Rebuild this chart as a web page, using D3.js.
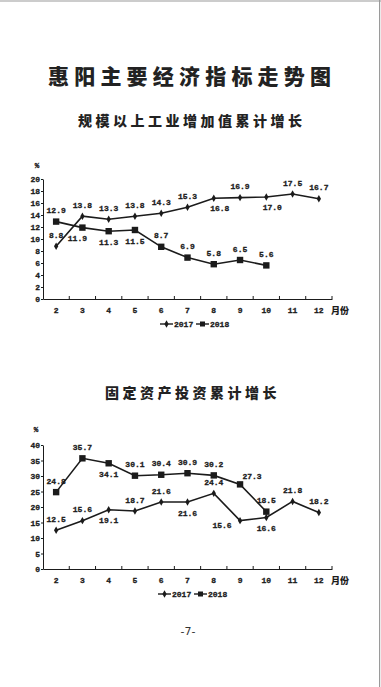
<!DOCTYPE html>
<html><head><meta charset="utf-8">
<script src="https://cdn.jsdelivr.net/npm/d3@7"></script>
<style>
html,body{margin:0;padding:0;background:#fff;}
svg{display:block;}
.num{font-family:'Liberation Mono','DejaVu Sans Mono',monospace;font-weight:bold;font-size:8px;fill:#1b1b1b;stroke:#1b1b1b;stroke-width:0.3px;}
</style>
</head><body>
<svg id="c" width="381" height="687"></svg>
<script>
// ---------- data ----------
const months = ["2","3","4","5","6","7","8","9","10","11","12"];
const seriesNames = ["2017","2018"];

// Chart 1: 规模以上工业增加值累计增长 (%)
const ind2017 = [8.8, 13.8, 13.3, 13.8, 14.3, 15.3, 16.8, 16.9, 17.0, 17.5, 16.7];
const ind2018 = [12.9, 11.9, 11.3, 11.5, 8.7, 6.9, 5.8, 6.5, 5.6];
const indTicks = [0, 2, 4, 6, 8, 10, 12, 14, 16, 18, 20];

// Chart 2: 固定资产投资累计增长 (%)
const inv2017 = [12.5, 15.6, 19.1, 18.7, 21.6, 21.6, 24.4, 15.6, 16.6, 21.8, 18.2];
const inv2018 = [24.8, 35.7, 34.1, 30.1, 30.4, 30.9, 30.2, 27.3, 18.5];
const invTicks = [0, 5, 10, 15, 20, 25, 30, 35, 40];

// label placement codes (a=above, b=below, ...)
const indPos2017 = ["a","a","a","a","a","a","br","a","br","a","a"];
const indPos2018 = ["a","bl","b","b","a","a","a","a","a"];
const invPos2017 = ["a","a","b","a","a","b","a","l","b","a","a"];
const invPos2018 = ["a","a","b","a","a","a","a","ar","a"];

const mainTitle = "惠阳主要经济指标走势图";
const title1 = "规模以上工业增加值累计增长";
const title2 = "固定资产投资累计增长";
const unitX = "月份";
const pageNo = "-7-";

// ---------- drawing ----------
const svg = d3.select("#c");
const INK = "#1b1b1b";
const CJK = "'Noto Sans CJK SC', sans-serif";

// page border
svg.append("line").attr("x1",0).attr("x2",381).attr("y1",1).attr("y2",1).attr("stroke","#9a9a9a").attr("stroke-width",1.2);
svg.append("line").attr("x1",379.6).attr("x2",379.6).attr("y1",0).attr("y2",687).attr("stroke","#9a9a9a").attr("stroke-width",1.2);

svg.append("text").attr("x",48).attr("y",74.5).attr("dominant-baseline","central")
  .attr("font-family",CJK).attr("font-weight",900).attr("font-size",21)
  .attr("letter-spacing",5.2).attr("fill","#222").text(mainTitle);

const offs = {a:[0,-11], b:[0,11], br:[6,10], bl:[-5,11], ar:[12,-8], l:[-18,5]};

function chart(opt){
  const g = svg.append("g");
  g.append("text").attr("x",opt.titleX).attr("y",opt.titleY).attr("dominant-baseline","central")
    .attr("font-family",CJK).attr("font-weight",900).attr("font-size",14)
    .attr("letter-spacing",3.5).attr("fill","#222").text(opt.title);

  const x = d3.scaleBand().domain(months).range([43, 332]).paddingInner(0).paddingOuter(0);
  const y = d3.scaleLinear().domain([0, opt.max]).range([opt.y0, opt.y1]);
  const cx = m => x(m) + x.bandwidth()/2;

  // y axis
  const ya = g.append("g").attr("transform",`translate(43,0)`)
    .call(d3.axisLeft(y).tickValues(opt.ticks).tickSizeInner(2).tickSizeOuter(0).tickPadding(1));
  ya.select(".domain").attr("stroke",INK).attr("stroke-width",1);
  ya.selectAll(".tick line").attr("stroke",INK);
  ya.selectAll("text").attr("class","num").attr("fill",null);

  // x axis (labels) + boundary ticks
  const xa = g.append("g").attr("transform",`translate(0,${opt.y0})`)
    .call(d3.axisBottom(x).tickSize(0).tickPadding(8));
  xa.select(".domain").attr("stroke",INK).attr("stroke-width",1);
  xa.selectAll("text").attr("class","num").attr("fill",null);
  const bounds = d3.range(months.length + 1).map(i => x.range()[0] + i * x.step());
  g.selectAll(".bt").data(bounds.slice(1)).join("line")
    .attr("x1",d=>d).attr("x2",d=>d).attr("y1",opt.y0).attr("y2",opt.y0-3)
    .attr("stroke",INK).attr("stroke-width",1);

  g.append("text").attr("x",331).attr("y",opt.y0+11.5).attr("dominant-baseline","central")
    .attr("font-family",CJK).attr("font-weight",900).attr("font-size",9).attr("fill",INK).text(unitX);
  g.append("text").attr("x",opt.pctX).attr("y",opt.pctY).attr("dominant-baseline","central").attr("text-anchor","middle")
    .attr("class","num").style("font-size","7.5px").text("%");

  const line = d3.line().x((d,i)=>cx(months[i])).y(d=>y(d));
  const diamond = d3.symbol().type(d3.symbolDiamond).size(16);

  // series 2017 (diamonds)
  g.append("path").attr("d",line(opt.s1)).attr("fill","none").attr("stroke",INK).attr("stroke-width",1.6);
  g.selectAll(".d1").data(opt.s1).join("path")
    .attr("transform",(d,i)=>`translate(${cx(months[i])},${y(d)})`).attr("d",diamond).attr("fill",INK);
  // series 2018 (squares)
  g.append("path").attr("d",line(opt.s2)).attr("fill","none").attr("stroke",INK).attr("stroke-width",1.6);
  g.selectAll(".d2").data(opt.s2).join("rect")
    .attr("x",(d,i)=>cx(months[i])-3.2).attr("y",d=>y(d)-3.2).attr("width",6.4).attr("height",6.4).attr("fill",INK);

  // labels
  function labels(vals,pos){
    g.selectAll(null).data(vals).join("text")
      .attr("class","num")
      .attr("x",(d,i)=>cx(months[i])+offs[pos[i]][0])
      .attr("y",(d,i)=>y(d)+offs[pos[i]][1])
      .attr("text-anchor","middle").attr("dominant-baseline","central")
      .text(d=>d.toFixed(1));
  }
  labels(opt.s1,opt.p1);
  labels(opt.s2,opt.p2);

  // legend
  const lg = g.append("g").attr("transform",`translate(${opt.legX},${opt.legY})`);
  lg.append("line").attr("x1",0).attr("x2",13).attr("y1",0).attr("y2",0).attr("stroke",INK).attr("stroke-width",1.4);
  lg.append("path").attr("transform","translate(6.5,0)").attr("d",diamond).attr("fill",INK);
  lg.append("text").attr("x",14).attr("y",0).attr("dominant-baseline","central").attr("class","num").text(seriesNames[0]);
  lg.append("line").attr("x1",36).attr("x2",49).attr("y1",0).attr("y2",0).attr("stroke",INK).attr("stroke-width",1.4);
  lg.append("rect").attr("x",40).attr("y",-2.5).attr("width",5).attr("height",5).attr("fill",INK);
  lg.append("text").attr("x",50).attr("y",0).attr("dominant-baseline","central").attr("class","num").text(seriesNames[1]);
}

chart({title:title1,titleX:78,titleY:120,max:20,y0:299,y1:179,ticks:indTicks,
  s1:ind2017,s2:ind2018,p1:indPos2017,p2:indPos2018,pctX:37,pctY:166,legX:160,legY:324});
chart({title:title2,titleX:105,titleY:392,max:40,y0:569,y1:445,ticks:invTicks,
  s1:inv2017,s2:inv2018,p1:invPos2017,p2:invPos2018,pctX:36,pctY:430,legX:158,legY:594});

svg.append("text").attr("x",188).attr("y",631).attr("text-anchor","middle").attr("dominant-baseline","central")
  .attr("font-family","'DejaVu Sans', sans-serif").attr("font-size",11).attr("fill","#333").text(pageNo);
</script>
</body></html>
